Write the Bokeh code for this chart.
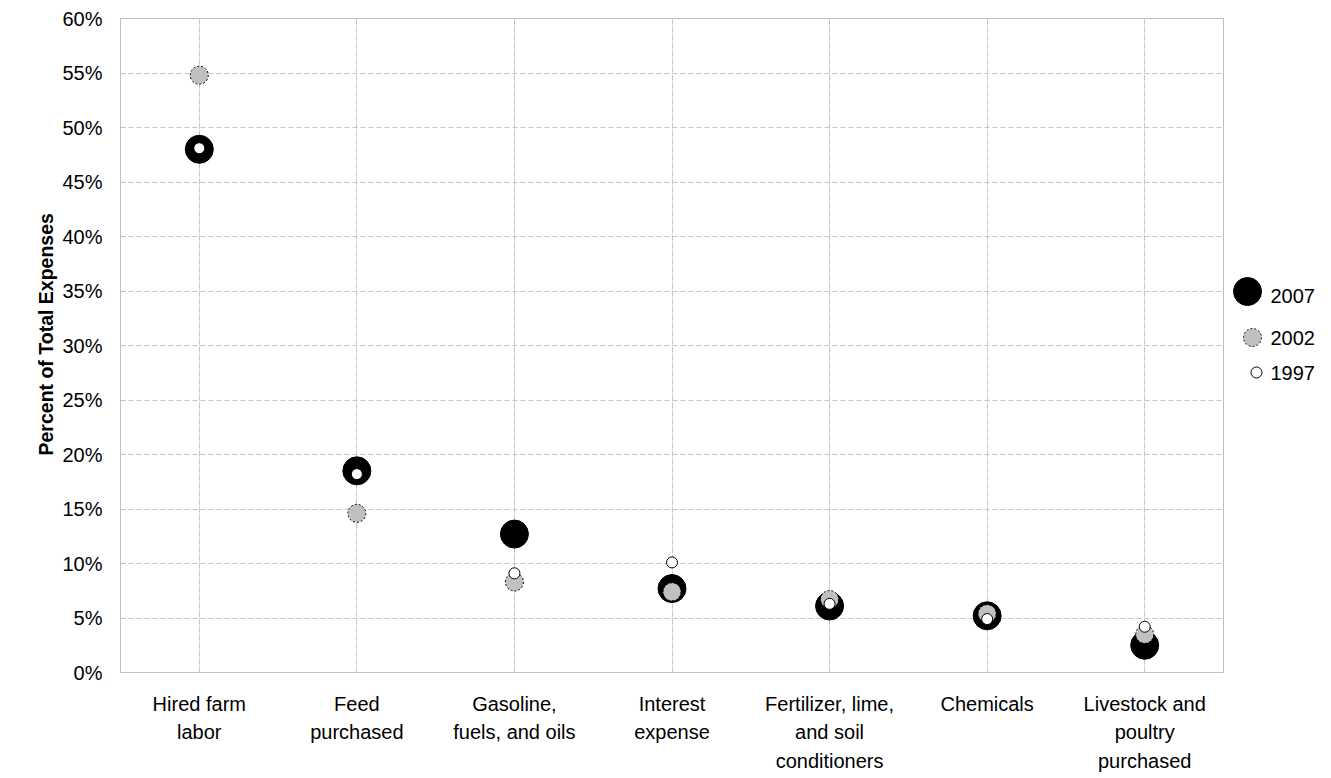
from bokeh.plotting import figure
from bokeh.models import Range1d, LinearAxis, FixedTicker, NumeralTickFormatter, ColumnDataSource, Grid, Title
from bokeh.layouts import row
from bokeh.embed import file_html
from bokeh.resources import INLINE
from bokeh.core.properties import value

# ---------------- data ----------------
categories = [
    "Hired farm\nlabor",
    "Feed\npurchased",
    "Gasoline,\nfuels, and oils",
    "Interest\nexpense",
    "Fertilizer, lime,\nand soil\nconditioners",
    "Chemicals",
    "Livestock and\npoultry\npurchased",
]
pct_2007 = [48.0, 18.5, 12.7, 7.7, 6.1, 5.2, 2.5]
pct_2002 = [54.8, 14.6, 8.3, 7.4, 6.7, 5.4, 3.5]
pct_1997 = [48.1, 18.2, 9.1, 10.1, 6.3, 4.9, 4.2]
series_names = ["2007", "2002", "1997"]
y_tick_pct = [0, 5, 10, 15, 20, 25, 30, 35, 40, 45, 50, 55, 60]
y_label = "Percent of Total Expenses"

# ---------------- style ----------------
FONT = "Liberation Sans"
FS = "20px"
GRID_COLOR = "#C4C4C4"
FRAME_COLOR = "#BFBFBF"
marker_styles = [
    dict(size=28, fill_color="black", line_color="black", line_width=1, line_dash="solid"),
    dict(size=18, fill_color="#C0C0C0", line_color="black", line_width=1, line_dash="2 2"),
    dict(size=11, fill_color="white", line_color="black", line_width=1, line_dash="solid"),
]
line_standoffs = [20, 3, 4]
# legend panel coordinates are pixels from the top of the (frame-aligned) legend panel
legend_marker_x = [16, 21, 25]
legend_marker_y = [273, 319, 354]
legend_text_y = [277, 319, 354]
legend_text_x = 39
LEG_W = 92
LEG_H = 654

n = len(categories)
xs = list(range(n))
src = ColumnDataSource(dict(
    x=xs,
    y2007=[v / 100 for v in pct_2007],
    y2002=[v / 100 for v in pct_2002],
    y1997=[v / 100 for v in pct_1997],
))

p = figure(frame_width=1103, frame_height=654,
           min_border_left=120, min_border_top=18, min_border_right=8, min_border_bottom=0,
           x_range=Range1d(-0.5, n - 0.5), y_range=Range1d(0, 0.6),
           output_backend="svg", toolbar_location=None,
           x_axis_location=None)
p.outline_line_color = FRAME_COLOR
p.outline_line_width = 1
p.background_fill_color = "white"
p.border_fill_color = "white"

# y axis
ya = p.yaxis[0]
ya.ticker = FixedTicker(ticks=[t / 100 for t in y_tick_pct])
ya.formatter = NumeralTickFormatter(format="0%")
ya.axis_line_color = None
ya.major_tick_in = 5
ya.major_tick_out = 0
ya.major_tick_line_color = FRAME_COLOR
ya.minor_tick_line_color = None
ya.major_label_text_font = FONT
ya.major_label_text_font_size = FS
ya.major_label_text_color = "black"
ya.major_label_standoff = 18

p.add_layout(Title(text=y_label, align="left", offset=217, standoff=5,
                   text_font=FONT, text_font_size="19.5px", text_font_style="bold",
                   text_color="black"), "left")

p.ygrid.grid_line_color = GRID_COLOR
p.ygrid.grid_line_dash = "5 3"
p.add_layout(Grid(dimension=0, ticker=FixedTicker(ticks=xs),
                  grid_line_color=GRID_COLOR, grid_line_dash="5 3"))

# category label lines as stacked axes
lines = [c.split("\n") for c in categories]
for k in range(3):
    ax = LinearAxis(ticker=FixedTicker(ticks=xs),
                    major_label_overrides={x: (l[k] if k < len(l) else "") for x, l in zip(xs, lines)})
    ax.axis_line_color = None
    ax.major_tick_line_color = None
    ax.minor_tick_line_color = None
    ax.major_tick_in = 0
    ax.major_tick_out = 0
    ax.major_label_standoff = line_standoffs[k]
    ax.major_label_text_font = FONT
    ax.major_label_text_font_size = FS
    ax.major_label_text_color = "black"
    p.add_layout(ax, "below")

cols = ["y2007", "y2002", "y1997"]
for col, st in zip(cols, marker_styles):
    p.scatter(x="x", y=col, source=src, marker="circle", **st)

# legend panel (data units = pixels)
leg = figure(frame_width=LEG_W, frame_height=LEG_H, x_range=Range1d(0, LEG_W), y_range=Range1d(LEG_H, 0),
             output_backend="svg", toolbar_location=None, min_border=0,
             x_axis_location=None, y_axis_location=None)
leg.outline_line_color = None
leg.grid.visible = False
for i, st in enumerate(marker_styles):
    leg.scatter(x=[legend_marker_x[i]], y=[legend_marker_y[i]], marker="circle", **st)
leg.text(x=[legend_text_x] * 3, y=legend_text_y, text=series_names,
         text_font=value(FONT), text_font_size=FS, text_baseline="middle",
         text_align="left", text_color="black")

layout = row(p, leg)
open("out.html", "w").write(file_html(layout, INLINE))
